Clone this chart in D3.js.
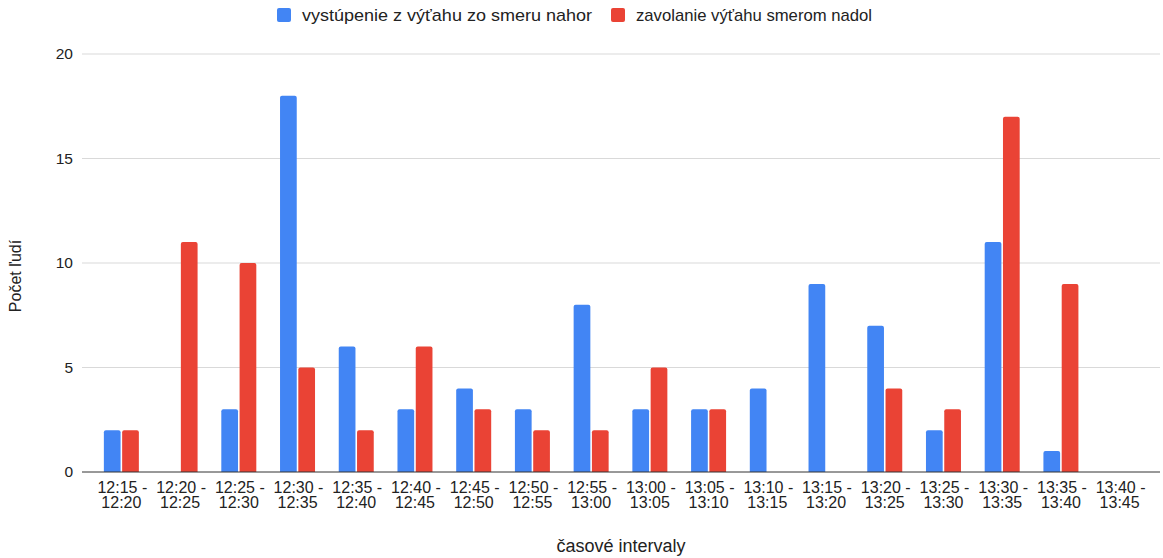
<!DOCTYPE html>
<html>
<head>
<meta charset="utf-8">
<script src="https://cdn.jsdelivr.net/npm/d3@7"></script>
<style>
  body { margin: 0; background: #fff; }
  svg { display: block; font-family: "Liberation Sans", Arial, sans-serif; }
</style>
</head>
<body>
<svg id="chart" width="1163" height="558"></svg>
<script>
// Time intervals (two-line labels)
const categories = [
  "12:15 - 12:20", "12:20 - 12:25", "12:25 - 12:30", "12:30 - 12:35",
  "12:35 - 12:40", "12:40 - 12:45", "12:45 - 12:50", "12:50 - 12:55",
  "12:55 - 13:00", "13:00 - 13:05", "13:05 - 13:10", "13:10 - 13:15",
  "13:15 - 13:20", "13:20 - 13:25", "13:25 - 13:30", "13:30 - 13:35",
  "13:35 - 13:40", "13:40 - 13:45"
];
const seriesNames = ["vystúpenie z výťahu zo smeru nahor", "zavolanie výťahu smerom nadol"];
const exitUp = [2, 0, 3, 18, 6, 3, 4, 3, 8, 3, 3, 4, 9, 7, 2, 11, 1, 0];
const callDown = [2, 11, 10, 5, 2, 6, 3, 2, 2, 5, 3, 0, 0, 4, 3, 17, 9, 0];
const yTicks = [0, 5, 10, 15, 20];
const colors = ["#4285F4", "#EA4335"];

const svg = d3.select("#chart");
const gridLeft = 82, gridRight = 1160;
const plotLeft = 92, plotRight = 1149;
const yTop = 54, yBottom = 472;

const x = d3.scaleBand().domain(categories).range([plotLeft, plotRight]).paddingInner(0).paddingOuter(0);
const y = d3.scaleLinear().domain([0, 20]).range([yBottom, yTop]);
const barW = 16, barGap = 3;
const xs = d3.scaleBand().domain([0, 1]).range([0, barW * 2 + barGap]).paddingInner(barGap / (barW * 2 + barGap));

// gridlines
svg.append("g").selectAll("line").data(yTicks.filter(t => t > 0)).join("line")
  .attr("x1", gridLeft).attr("x2", gridRight)
  .attr("y1", d => y(d)).attr("y2", d => y(d))
  .attr("stroke", "#d9d9d9").attr("stroke-width", 1);

// y tick labels
svg.append("g").selectAll("text").data(yTicks).join("text")
  .attr("x", 73).attr("y", d => y(d)).attr("dy", "0.33em")
  .attr("text-anchor", "end").attr("font-size", 15.5).attr("fill", "#222")
  .text(d => d);

// bars
const series = [exitUp, callDown];
const groupOffset = (x.bandwidth() - (barW * 2 + barGap)) / 2;
series.forEach((vals, si) => {
  svg.append("g").selectAll("path").data(vals.map((v, i) => ({ v, c: categories[i] })).filter(d => d.v > 0)).join("path")
    .attr("fill", colors[si])
    .attr("d", d => {
      const x0 = x(d.c) + groupOffset + xs(si);
      const w = xs.bandwidth();
      const y0 = y(d.v), y1 = y(0);
      const r = 2;
      return `M${x0},${y1}V${y0 + r}Q${x0},${y0} ${x0 + r},${y0}H${x0 + w - r}Q${x0 + w},${y0} ${x0 + w},${y0 + r}V${y1}Z`;
    });
});

// baseline
svg.append("line").attr("x1", gridLeft).attr("x2", gridRight)
  .attr("y1", y(0)).attr("y2", y(0)).attr("stroke", "#333").attr("stroke-width", 1);

// x tick labels (two lines)
const xl = svg.append("g").selectAll("text").data(categories).join("text")
  .attr("text-anchor", "middle").attr("font-size", 16).attr("fill", "#222");
xl.each(function (d) {
  const parts = d.split(" - ");
  const t = d3.select(this);
  const cx = x(d) + x.bandwidth() / 2;
  t.append("tspan").attr("x", cx + 1).attr("y", 493).text(parts[0] + " -");
  t.append("tspan").attr("x", cx).attr("y", 508).text(parts[1]);
});

// axis titles
svg.append("text").attr("x", 621).attr("y", 552).attr("text-anchor", "middle")
  .attr("font-size", 18).attr("fill", "#222").text("časové intervaly");
svg.append("text").attr("transform", "translate(21,276) rotate(-90)").attr("text-anchor", "middle")
  .attr("font-size", 16).attr("fill", "#222").text("Počet ľudí");

// legend
const legendX = [277, 611];
const legendTextW = [290, 236];
seriesNames.forEach((name, i) => {
  svg.append("rect").attr("x", legendX[i]).attr("y", 8).attr("width", 14).attr("height", 14)
    .attr("rx", 2).attr("fill", colors[i]);
  svg.append("text").attr("x", legendX[i] + 25).attr("y", 15).attr("dy", "0.35em")
    .attr("font-size", 17).attr("fill", "#222")
    .attr("textLength", legendTextW[i]).attr("lengthAdjust", "spacingAndGlyphs")
    .text(name);
});
</script>
</body>
</html>
